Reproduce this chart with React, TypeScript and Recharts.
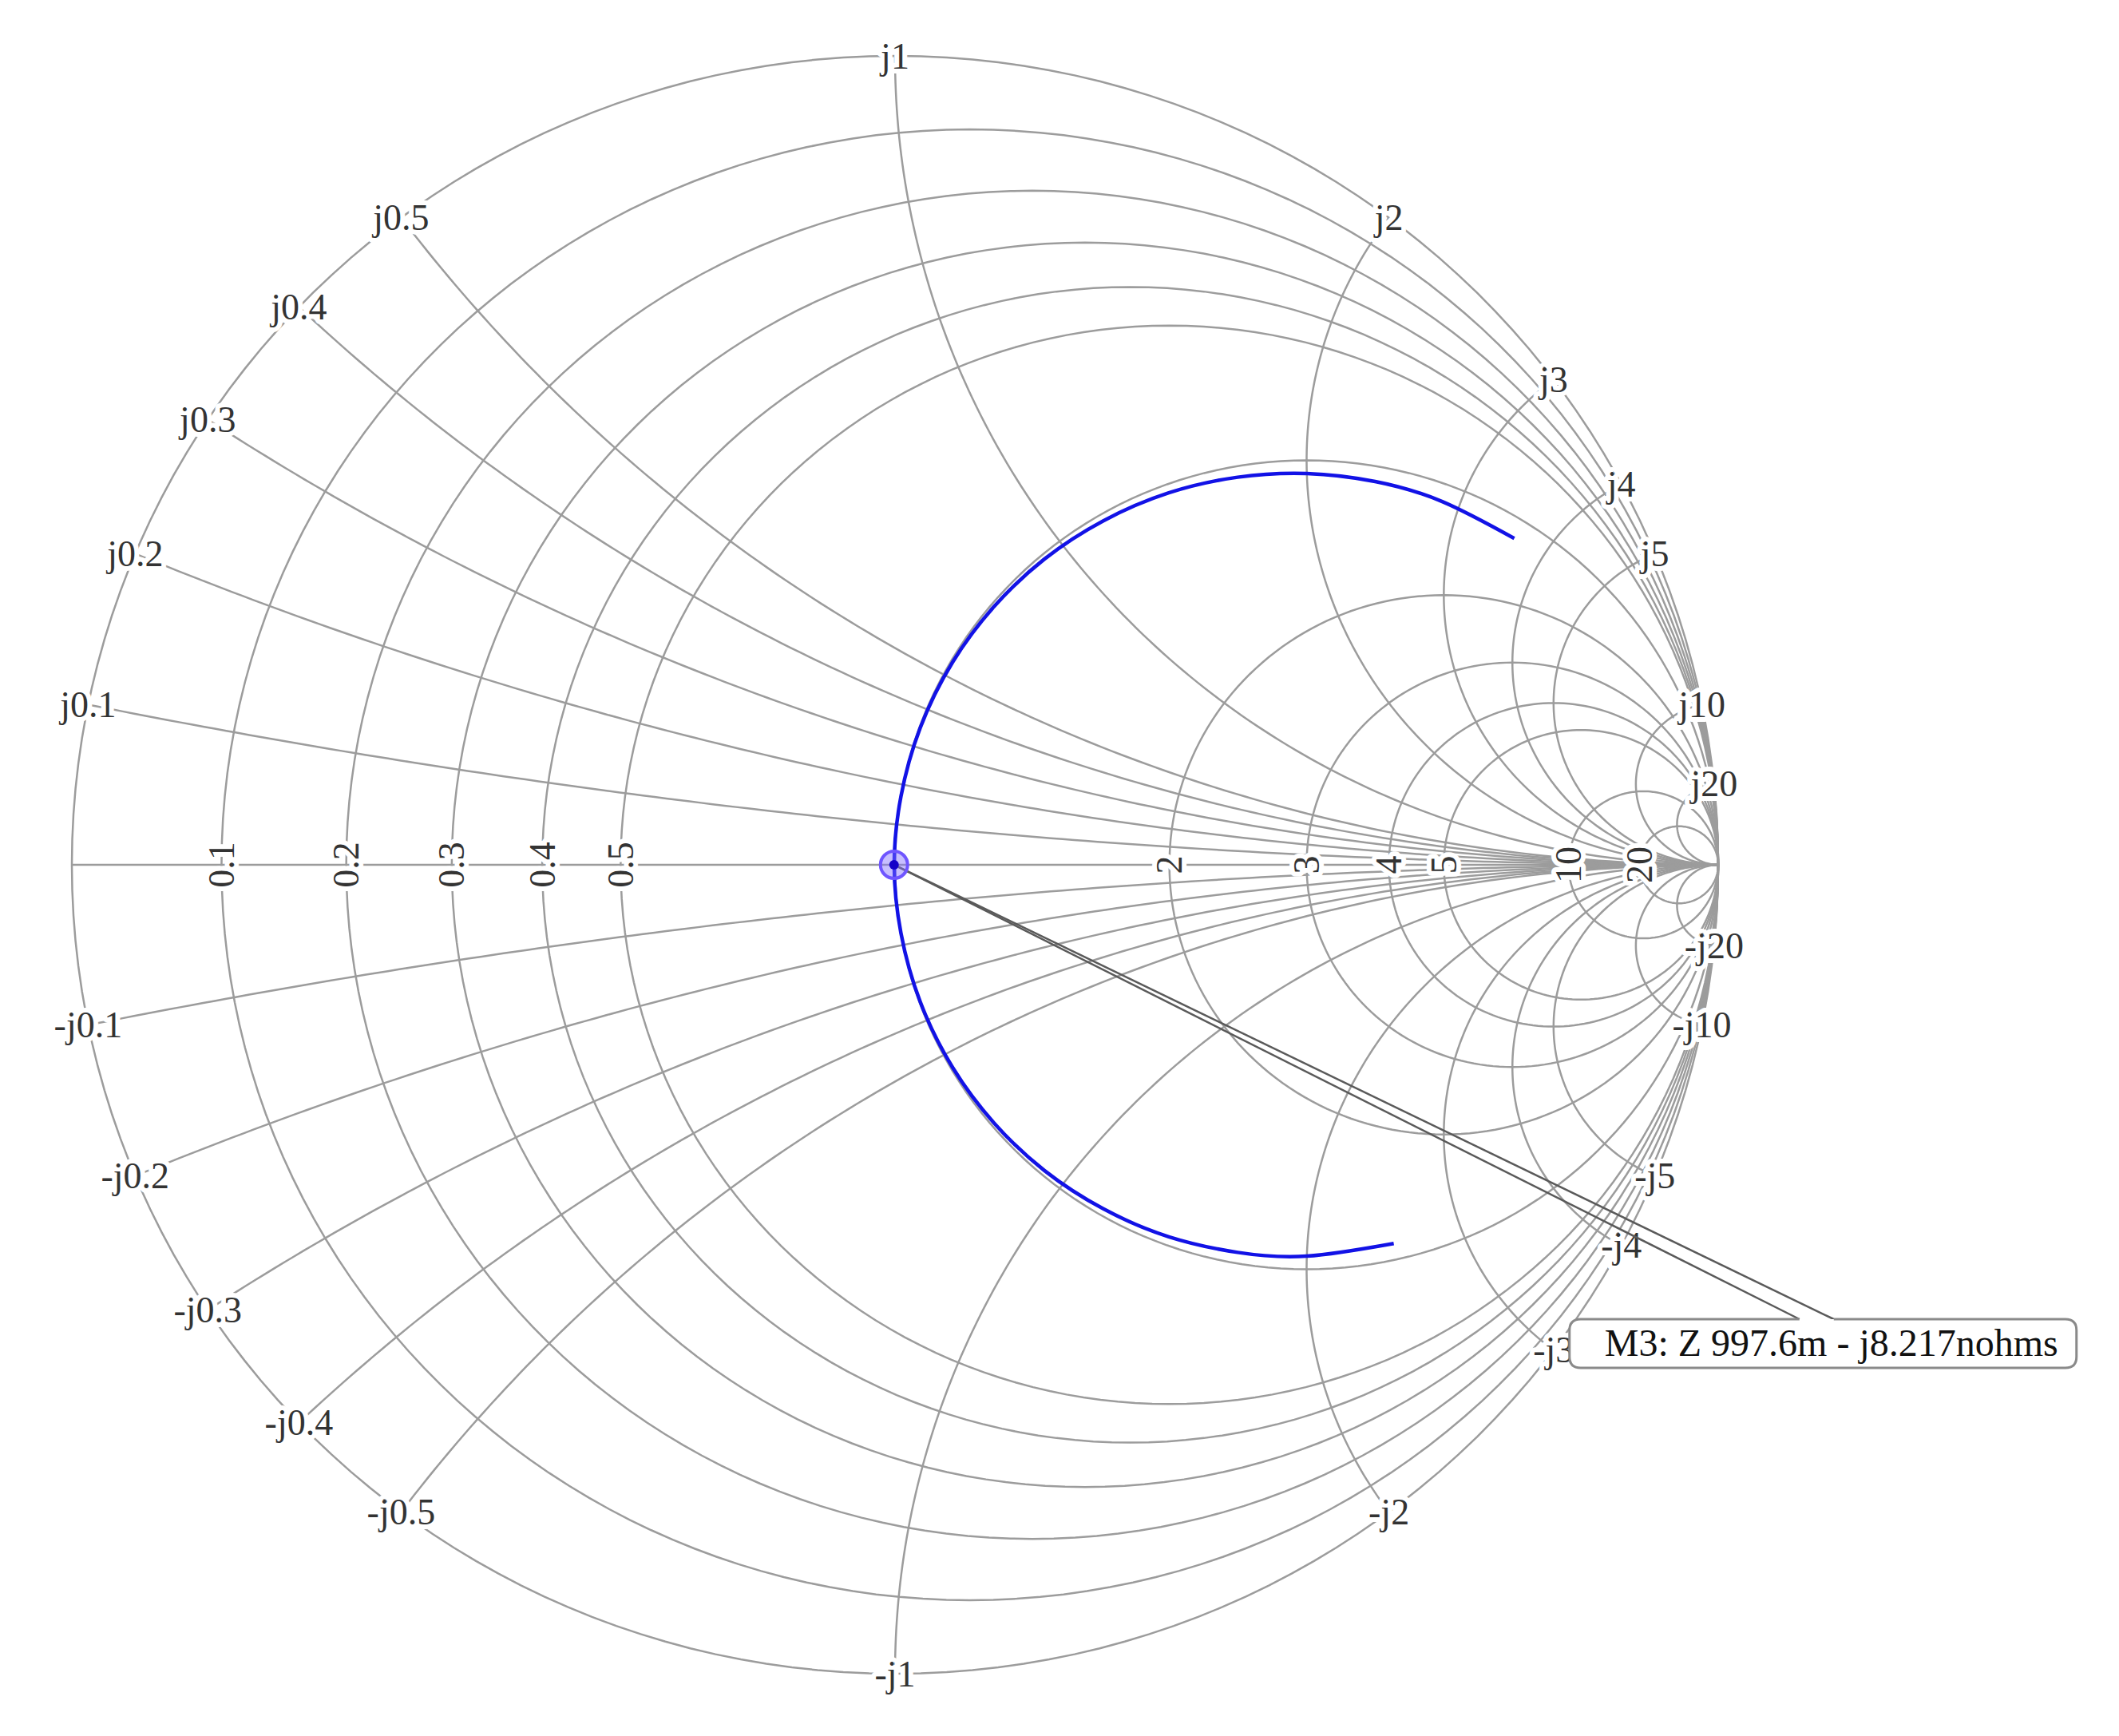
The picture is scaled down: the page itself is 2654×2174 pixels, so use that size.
import { ComposedChart, Line, Scatter, XAxis, YAxis } from "recharts";

const CHART_WIDTH = 2654;
const CHART_HEIGHT = 2174;
const FONT = "'Liberation Serif', 'DejaVu Serif', serif";

// grid values of the Smith chart
const resistanceCircles = [0, 0.1, 0.2, 0.3, 0.4, 0.5, 1, 2, 3, 4, 5, 10, 20];
const resistanceLabels = [0.1, 0.2, 0.3, 0.4, 0.5, 2, 3, 4, 5, 10, 20];
const reactanceArcs = [0.1, 0.2, 0.3, 0.4, 0.5, 1, 2, 3, 4, 5, 10, 20];
const reactanceLabels = [0.1, 0.2, 0.3, 0.4, 0.5, 1, 2, 3, 4, 5, 10, 20];

const traceReactance = [
  3.6, 2.86, 2.38, 2.0, 1.68, 1.4, 1.15, 0.93, 0.73, 0.54, 0.35, 0.17, 0,
  -0.17, -0.35, -0.54, -0.73, -0.93, -1.15, -1.4, -1.68, -2.0, -2.5,
];
const traceResistance = [
  1.21, 1.135, 1.093, 1.066, 1.047, 1.032, 1.022, 1.014, 1.009, 1.005, 1.002, 1.0, 0.998,
  1.0, 1.002, 1.005, 1.009, 1.014, 1.022, 1.032, 1.047, 1.066, 1.105,
];

const markerName = "M3";
const markerResistance = 0.9976;
const markerReactance = -8.217e-9;
const markerText = "M3: Z 997.6m - j8.217nohms";

type Pt = { gx: number; gy: number };

const clamp = (v: number) => Math.max(-1, Math.min(1, v));

function toGamma(r: number, x: number): Pt {
  const den = (r + 1) * (r + 1) + x * x;
  return { gx: clamp((r * r - 1 + x * x) / den), gy: clamp((2 * x) / den) };
}

function circlePoints(cx: number, cy: number, rad: number, a0: number, a1: number, n: number): Pt[] {
  const pts: Pt[] = [];
  for (let i = 0; i <= n; i++) {
    const a = a0 + ((a1 - a0) * i) / n;
    pts.push({ gx: clamp(cx + rad * Math.cos(a)), gy: clamp(cy + rad * Math.sin(a)) });
  }
  return pts;
}

function resistanceCircle(r: number): Pt[] {
  return circlePoints(r / (1 + r), 0, 1 / (1 + r), 0, Math.PI * 2, 200);
}

function reactanceArc(x: number): Pt[] {
  const c = 1 / x;
  const end = toGamma(0, x);
  const a0 = Math.atan2(-c, 0);
  let a1 = Math.atan2(end.gy - c, end.gx - 1);
  if (x > 0) {
    while (a1 > a0) a1 -= Math.PI * 2;
  } else {
    while (a1 < a0) a1 += Math.PI * 2;
  }
  return circlePoints(1, c, Math.abs(c), a0, a1, 140);
}

const gridLines: { key: string; data: Pt[] }[] = [
  { key: "axis", data: [{ gx: -1, gy: 0 }, { gx: 1, gy: 0 }] },
  ...resistanceCircles.map((r) => ({ key: `r${r}`, data: resistanceCircle(r) })),
  ...reactanceArcs.flatMap((x) => [
    { key: `x${x}`, data: reactanceArc(x) },
    { key: `x-${x}`, data: reactanceArc(-x) },
  ]),
];

const labelPoints = [
  ...resistanceLabels.map((r) => ({ ...toGamma(r, 0), text: String(r), rotate: true })),
  ...reactanceLabels.flatMap((x) => [
    { ...toGamma(0, x), text: `j${x}`, rotate: false },
    { ...toGamma(0, -x), text: `-j${x}`, rotate: false },
  ]),
];

const traceData = traceReactance.map((x, i) => toGamma(traceResistance[i], x));
const markerData = [{ ...toGamma(markerResistance, markerReactance), name: markerName }];

function TickLabel(props: any) {
  const { cx, cy } = props;
  const p = props.payload ?? props;
  if (cx == null || cy == null) return <g />;
  return (
    <text
      x={cx}
      y={cy}
      textAnchor="middle"
      dominantBaseline="central"
      transform={p.rotate ? `rotate(-90 ${cx} ${cy})` : undefined}
      fontFamily={FONT}
      fontSize={46}
      fill="#333"
      stroke="#fff"
      strokeWidth={12}
      strokeLinejoin="round"
      paintOrder="stroke"
    >
      {p.text}
    </text>
  );
}

function MarkerShape(props: any) {
  const { cx, cy } = props;
  if (cx == null || cy == null) return <g />;
  const left = cx + 846;
  const right = cx + 1481;
  const top = cy + 569;
  const bottom = cy + 630;
  const p1 = cx + 1134;
  const p2 = cx + 1177;
  const rr = 14;
  const box = `M ${p2} ${top} L ${right - rr} ${top} Q ${right} ${top} ${right} ${top + rr} L ${right} ${bottom - rr} Q ${right} ${bottom} ${right - rr} ${bottom} L ${left + rr} ${bottom} Q ${left} ${bottom} ${left} ${bottom - rr} L ${left} ${top + rr} Q ${left} ${top} ${left + rr} ${top} L ${p1} ${top}`;
  return (
    <g>
      <line x1={cx} y1={cy} x2={p1} y2={top} stroke="#5a5a5a" strokeWidth={2.5} />
      <line x1={cx} y1={cy} x2={p2} y2={top} stroke="#5a5a5a" strokeWidth={2.5} />
      <path d={box} fill="#fff" stroke="#8a8a8a" strokeWidth={3} />
      <text x={cx + 890} y={cy + 615} fontFamily={FONT} fontSize={48} fill="#111">
        {markerText}
      </text>
      <circle cx={cx} cy={cy} r={17} fill="rgba(130,110,255,0.45)" stroke="#6f55ff" strokeWidth={4} />
      <circle cx={cx} cy={cy} r={6} fill="#1400c8" />
    </g>
  );
}

export default function App() {
  return (
    <div style={{ position: "absolute", left: 0, top: 0, background: "#fff" }}>
      <ComposedChart
        width={CHART_WIDTH}
        height={CHART_HEIGHT}
        margin={{ top: 70, right: 502, bottom: 78, left: 90 }}
      >
        <XAxis type="number" dataKey="gx" domain={[-1, 1]} hide />
        <YAxis type="number" dataKey="gy" domain={[-1, 1]} hide />
        {gridLines.map((g) => (
          <Line
            key={g.key}
            data={g.data}
            dataKey="gy"
            type="linear"
            stroke="#9c9c9c"
            strokeWidth={2.5}
            dot={false}
            activeDot={false}
            isAnimationActive={false}
          />
        ))}
        <Line
          data={traceData}
          dataKey="gy"
          type="natural"
          stroke="#1212e6"
          strokeWidth={4.5}
          dot={false}
          activeDot={false}
          isAnimationActive={false}
        />
        <Scatter data={labelPoints} dataKey="gy" shape={TickLabel} isAnimationActive={false} />
        <Scatter data={markerData} dataKey="gy" shape={MarkerShape} isAnimationActive={false} />
      </ComposedChart>
    </div>
  );
}
